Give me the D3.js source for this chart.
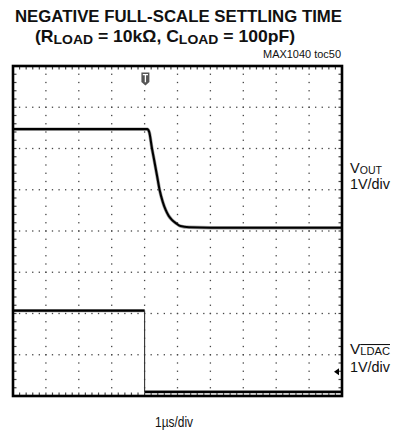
<!DOCTYPE html>
<html>
<head>
<meta charset="utf-8">
<script src="https://cdn.jsdelivr.net/npm/d3@7"></script>
<style>
  html, body { margin: 0; padding: 0; background: #fff; }
  svg { display: block; }
  text { font-family: "Liberation Sans", Arial, Helvetica, sans-serif; fill: #111; }
</style>
</head>
<body>
<svg id="chart" width="394" height="431"></svg>
<script>
// Scope capture: time in µs relative to the trigger (1µs/div),
// levels in screen divisions counted from the bottom graticule line (1V/div).
const vOutTime  = [-4, 0.08, 0.14, 0.22, 0.30, 0.38, 0.46, 0.55, 0.64, 0.73, 0.83, 0.95, 1.09, 1.35, 2.0, 6];
const vOutLevel = [6.47, 6.47, 6.40, 6.02, 5.68, 5.33, 4.98, 4.71, 4.51, 4.37, 4.27, 4.19, 4.12, 4.09, 4.08, 4.08];
const ldacTime  = [-4, 0, 0, 6];
const ldacLevel = [2.07, 2.07, 0.10, 0.10];
const timeTicks  = d3.range(-4, 6.001, 1);   // 10 horizontal divisions
const levelTicks = d3.range(0, 8.001, 1);    // 8 vertical divisions
const triggerTime = 0;
const ldacRefLevel = 0.59;

const svg = d3.select("#chart");
const x = d3.scaleLinear().domain([-4, 6]).range([13, 342]);
const y = d3.scaleLinear().domain([0, 8]).range([396, 66]);

// ---- graticule: dotted division lines with 5 minor dots per division ----
const grid = svg.append("g").attr("fill", "#444");
const minorX = d3.range(-4, 6.0001, 0.2);
const minorY = d3.range(0, 8.0001, 0.2);
const dot = 1.3;

levelTicks.slice(1, -1).forEach(lv => {
  grid.selectAll(null).data(minorX).join("rect")
    .attr("x", d => x(d) - dot / 2).attr("y", y(lv) - dot / 2)
    .attr("width", dot).attr("height", dot);
});
timeTicks.slice(1, -1).forEach(t => {
  grid.selectAll(null).data(minorY).join("rect")
    .attr("x", x(t) - dot / 2).attr("y", d => y(d) - dot / 2)
    .attr("width", dot).attr("height", dot);
});
// minor ticks just inside the frame
const tickG = svg.append("g").attr("stroke", "#444").attr("stroke-width", 1.2);
tickG.selectAll(null).data(minorX.slice(1, -1)).join("line")
  .attr("x1", d => x(d)).attr("x2", d => x(d))
  .attr("y1", y(8)).attr("y2", y(8) + 3.5);
tickG.selectAll(null).data(minorX.slice(1, -1)).join("line")
  .attr("x1", d => x(d)).attr("x2", d => x(d))
  .attr("y1", y(0)).attr("y2", y(0) - 3.5);
tickG.selectAll(null).data(minorY.slice(1, -1)).join("line")
  .attr("x1", x(-4)).attr("x2", x(-4) + 3.5)
  .attr("y1", d => y(d)).attr("y2", d => y(d));
tickG.selectAll(null).data(minorY.slice(1, -1)).join("line")
  .attr("x1", x(6)).attr("x2", x(6) - 3.5)
  .attr("y1", d => y(d)).attr("y2", d => y(d));

// ---- traces ----
const line = d3.line().x(d => x(d[0])).y(d => y(d[1]));
const vOutPts = d3.zip(vOutTime, vOutLevel);
const traceG = svg.append("g").attr("fill", "none").attr("stroke-linejoin", "round");

traceG.append("path").attr("d", line.curve(d3.curveMonotoneX)(vOutPts))
  .attr("stroke", "#555").attr("stroke-width", 3.4).attr("stroke-opacity", 0.55);
traceG.append("path").attr("d", line.curve(d3.curveMonotoneX)(vOutPts))
  .attr("stroke", "#000").attr("stroke-width", 2.1);

// LDAC: flat segments are thick, the fast edge is a thin stroke
const ldacPts = d3.zip(ldacTime, ldacLevel);
const flat = [], edges = [];
for (let i = 1; i < ldacPts.length; i++) {
  const seg = [ldacPts[i - 1], ldacPts[i]];
  (seg[0][0] === seg[1][0] ? edges : flat).push(seg);
}
line.curve(d3.curveLinear);
flat.forEach(seg => {
  traceG.append("path").attr("d", line(seg))
    .attr("stroke", "#555").attr("stroke-width", 3.4).attr("stroke-opacity", 0.55);
  traceG.append("path").attr("d", line(seg))
    .attr("stroke", "#000").attr("stroke-width", 2.1);
});
edges.forEach(seg => {
  traceG.append("path").attr("d", line(seg))
    .attr("stroke", "#333").attr("stroke-width", 1.1);
});

// ---- frame ----
svg.append("rect")
  .attr("x", x(-4)).attr("y", y(8))
  .attr("width", x(6) - x(-4)).attr("height", y(0) - y(8))
  .attr("fill", "none").attr("stroke", "#000").attr("stroke-width", 2.6);

// ---- trigger marker ----
const tx = x(triggerTime) + 0.8, ty = y(8) + 6.5;
svg.append("path")
  .attr("d", `M${tx - 4},${ty} h8 v9.5 l-4,3.5 l-4,-3.5 z`)
  .attr("fill", "#555");
svg.append("path")
  .attr("d", `M${tx - 2.6},${ty + 2.2} h5.2 M${tx},${ty + 2.2} v7.5`)
  .attr("stroke", "#fff").attr("stroke-width", 1.3);

// ---- channel reference arrow ----
const ax = x(6) - 3, ay = y(ldacRefLevel);
svg.append("path")
  .attr("d", `M${ax - 5},${ay} L${ax},${ay - 3.5} L${ax},${ay + 3.5} Z`)
  .attr("fill", "#000");

// ---- text ----
svg.append("text")
  .attr("x", 15).attr("y", 21.5)
  .attr("font-weight", "bold").attr("font-size", 16)
  .attr("textLength", 327).attr("lengthAdjust", "spacingAndGlyphs")
  .text("NEGATIVE FULL-SCALE SETTLING TIME");

const t2 = svg.append("text")
  .attr("x", 35).attr("y", 41.5)
  .attr("font-weight", "bold").attr("font-size", 17)
  .attr("textLength", 260).attr("lengthAdjust", "spacingAndGlyphs");
t2.append("tspan").text("(R");
t2.append("tspan").attr("font-size", 13.5).attr("dy", 2.5).text("LOAD");
t2.append("tspan").attr("dy", -2.5).text(" = 10kΩ, C");
t2.append("tspan").attr("font-size", 13.5).attr("dy", 2.5).text("LOAD");
t2.append("tspan").attr("dy", -2.5).text(" = 100pF)");

svg.append("text")
  .attr("x", 263).attr("y", 57.5)
  .attr("font-size", 10.5)
  .attr("textLength", 78).attr("lengthAdjust", "spacingAndGlyphs")
  .attr("fill", "#222")
  .text("MAX1040 toc50");

const vout = svg.append("text").attr("x", 350).attr("y", 172.5).attr("font-size", 14.5)
  .attr("textLength", 32).attr("lengthAdjust", "spacingAndGlyphs");
vout.append("tspan").text("V");
vout.append("tspan").attr("font-size", 10.5).attr("dy", 1).text("OUT");
svg.append("text").attr("x", 350).attr("y", 189).attr("font-size", 14.5)
  .attr("textLength", 40).attr("lengthAdjust", "spacingAndGlyphs").text("1V/div");

const vl = svg.append("text").attr("x", 350).attr("y", 354).attr("font-size", 14.5)
  .attr("textLength", 40).attr("lengthAdjust", "spacingAndGlyphs");
vl.append("tspan").text("V");
vl.append("tspan").attr("font-size", 10.5).attr("dy", 1)
  .style("text-decoration", "overline").text("LDAC");
svg.append("text").attr("x", 350).attr("y", 371.5).attr("font-size", 14.5)
  .attr("textLength", 40).attr("lengthAdjust", "spacingAndGlyphs").text("1V/div");

svg.append("text")
  .attr("x", 155).attr("y", 426.5)
  .attr("font-size", 14.5)
  .attr("textLength", 38).attr("lengthAdjust", "spacingAndGlyphs")
  .text("1µs/div");
</script>
</body>
</html>
